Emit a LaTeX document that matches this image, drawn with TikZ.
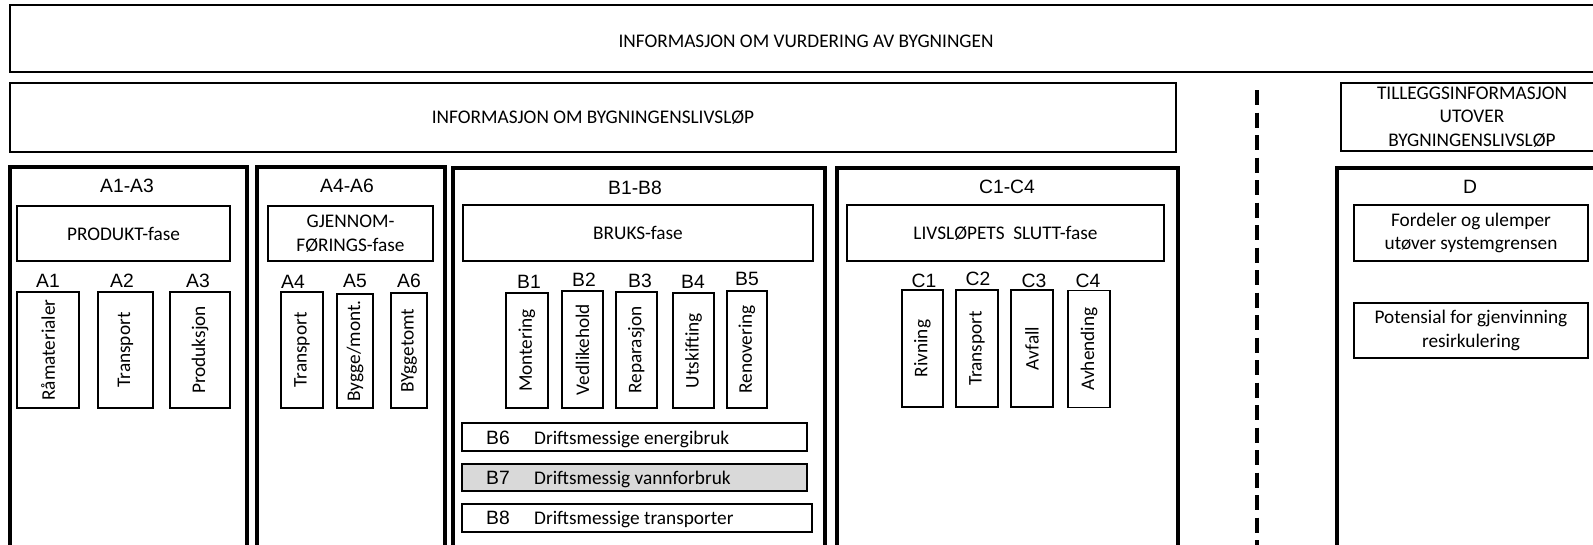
\documentclass[tikz,border=0pt]{standalone}
\usepackage{fontspec}
\setmainfont{Carlito}
\newfontfamily\arialfont{Liberation Sans}
\newcommand\txtsize{\fontsize{19.3}{23.5}\selectfont}

\tikzset{
  frame/.style={draw, line width=1.8pt, inner sep=0pt, outer sep=0pt,
                align=center, font=\txtsize},
  colframe/.style={draw, line width=4pt, inner sep=0pt, outer sep=0pt},
  upright/.style={frame, rotate=90},
  code/.style={inner sep=0pt, anchor=base, font=\arialfont\txtsize},
  rowtext/.style={inner sep=0pt, anchor=base west, font=\txtsize},
  grayrow/.style={frame, fill=black!15},
  boundary/.style={line width=4pt, dash pattern=on 15pt off 7.5pt}
}

\begin{document}
\begin{tikzpicture}[x=1pt,y=-1pt]
\useasboundingbox (0,0) rectangle (1593,544);
\fill[white] (0,0) rectangle (1593,544);
\clip (0,0) rectangle (1593,544);

% --- top bands ---
\node[frame, minimum width=1592, minimum height=67] (assess) at (806,38.5) {};
\node[inner sep=0pt, anchor=base, font=\txtsize] (assesstext) at (806,47.5)
  {INFORMASJON OM VURDERING AV BYGNINGEN};
\node[frame, minimum width=1166, minimum height=69] (life) at (593,117.5)
  {INFORMASJON OM BYGNINGENSLIVSLØP};
\node[frame, minimum width=262, minimum height=68] (extra) at (1472,117)
  {TILLEGGSINFORMASJON\\UTOVER\\BYGNINGENSLIVSLØP};

% --- system boundary ---
\coordinate (btop) at (1257,90);
\coordinate (bbot) at (1257,560);
\draw[boundary] (btop) -- (bbot);

% --- module columns ---
\node[colframe, anchor=north west, minimum width=237, minimum height=400] (colA) at (10,167) {};
\node[colframe, anchor=north west, minimum width=188, minimum height=400] (colAb) at (257,167) {};
\node[colframe, anchor=north west, minimum width=372, minimum height=400] (colB) at (453,168) {};
\node[colframe, anchor=north west, minimum width=341, minimum height=400] (colC) at (837,168) {};
\node[colframe, anchor=north west, minimum width=268, minimum height=400] (colD) at (1337,168) {};

\node[code] (hA)  at (127,192) {A1-A3};
\node[code] (hAb) at (347,192) {A4-A6};
\node[code] (hB)  at (635,194) {B1-B8};
\node[code] (hC)  at (1007,193) {C1-C4};
\node[code] (hD)  at (1470,193) {D};

% --- phase boxes ---
\node[frame, minimum width=213, minimum height=55] (prod) at (123.5,233.5) {PRODUKT-fase};
\node[frame, minimum width=165, minimum height=55] (constr) at (350.5,233.5) {GJENNOM-\\FØRINGS-fase};
\node[frame, minimum width=350, minimum height=56] (use) at (638,233) {BRUKS-fase};
\node[frame, minimum width=317, minimum height=56] (eol) at (1005.5,233) {LIVSLØPETS\ \ SLUTT-fase};
\node[frame, minimum width=234, minimum height=56] (benef) at (1471,233) {Fordeler og ulemper\\utøver systemgrensen};
\node[frame, minimum width=234, minimum height=55] (recov) at (1471,330.5) {Potensial for gjenvinning\\resirkulering};

% --- A modules ---
\node[upright, minimum width=116, minimum height=62] (a1) at (48,350) {Råmaterialer};
\node[upright, minimum width=116, minimum height=55] (a2) at (125.5,350) {Transport};
\node[upright, minimum width=116, minimum height=60] (a3) at (200,350) {Produksjon};
\node[upright, minimum width=116, minimum height=42] (a4) at (302,350) {Transport};
\node[upright, minimum width=114, minimum height=36] (a5) at (355,351) {Bygge/mont.};
\node[upright, minimum width=115, minimum height=36] (a6) at (409,350.5) {BYggetomt};
\node[code] at (48,287) {A1};
\node[code] at (122,287) {A2};
\node[code] at (198,287) {A3};
\node[code] at (293,288) {A4};
\node[code] at (355,287) {A5};
\node[code] at (409,287) {A6};

% --- B modules ---
\node[upright, minimum width=115, minimum height=42] (b1) at (527,350.5) {Montering};
\node[upright, minimum width=117, minimum height=41] (b2) at (582.5,349.5) {Vedlikehold};
\node[upright, minimum width=116, minimum height=41] (b3) at (636.5,350) {Reparasjon};
\node[upright, minimum width=115, minimum height=41] (b4) at (693.5,350.5) {Utskifting};
\node[upright, minimum width=117, minimum height=40] (b5) at (747,349.5) {Renovering};
\node[code] at (529,288) {B1};
\node[code] at (584,286) {B2};
\node[code] at (640,287) {B3};
\node[code] at (693,288) {B4};
\node[code] at (747,285) {B5};

\node[frame, minimum width=345, minimum height=28] (b6) at (634.5,437) {};
\node[grayrow, minimum width=345, minimum height=27] (b7) at (634.5,477.5) {};
\node[frame, minimum width=350, minimum height=28] (b8) at (637,518) {};
\node[code] at (498,444) {B6};
\node[rowtext] at (534,444) {Driftsmessige energibruk};
\node[code] at (498,484) {B7};
\node[rowtext] at (534,484) {Driftsmessig vannforbruk};
\node[code] at (498,524) {B8};
\node[rowtext] at (534,524) {Driftsmessige transporter};

% --- C modules ---
\node[upright, minimum width=117, minimum height=41] (c1) at (922.5,348.5) {Rivning};
\node[upright, minimum width=117, minimum height=42] (c2) at (977,348.5) {Transport};
\node[upright, minimum width=117, minimum height=42] (c3) at (1032,348.5) {Avfall};
\node[upright, minimum width=117, minimum height=42] (c4) at (1089,349) {Avhending};
\node[code] at (924,287) {C1};
\node[code] at (978,285) {C2};
\node[code] at (1034,287) {C3};
\node[code] at (1088,287) {C4};
\end{tikzpicture}
\end{document}
